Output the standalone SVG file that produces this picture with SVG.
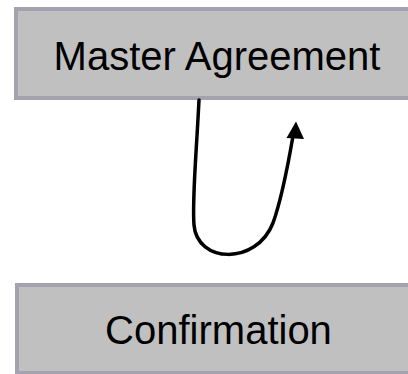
<svg xmlns="http://www.w3.org/2000/svg" width="408" height="374" viewBox="0 0 408 374">
<style>
.box{fill:#c0c0c0;stroke:#a3a2ae;stroke-width:4}
.lbl{font-family:"Liberation Sans",Arial,sans-serif;font-size:40px;fill:#000;text-anchor:middle}
.conn{fill:none;stroke:#000;stroke-width:3.5;stroke-linecap:round}
</style>
<rect width="408" height="374" fill="#fff"/>
<g id="master">
<rect class="box" x="16" y="9" width="404" height="89"/>
<text class="lbl" x="217" y="70">Master Agreement</text>
</g>
<g id="confirmation">
<rect class="box" x="17" y="285" width="404" height="88"/>
<text class="lbl" x="218.5" y="344">Confirmation</text>
</g>
<g id="connectors">
<path class="conn" d="M199,100 C196,160 192,200 194,225 C197,263 256,266 273,223 C282,198 288,165 293,136"/>
<polygon points="296,121.5 286.5,138 304,139" fill="#000"/>
</g>
</svg>
